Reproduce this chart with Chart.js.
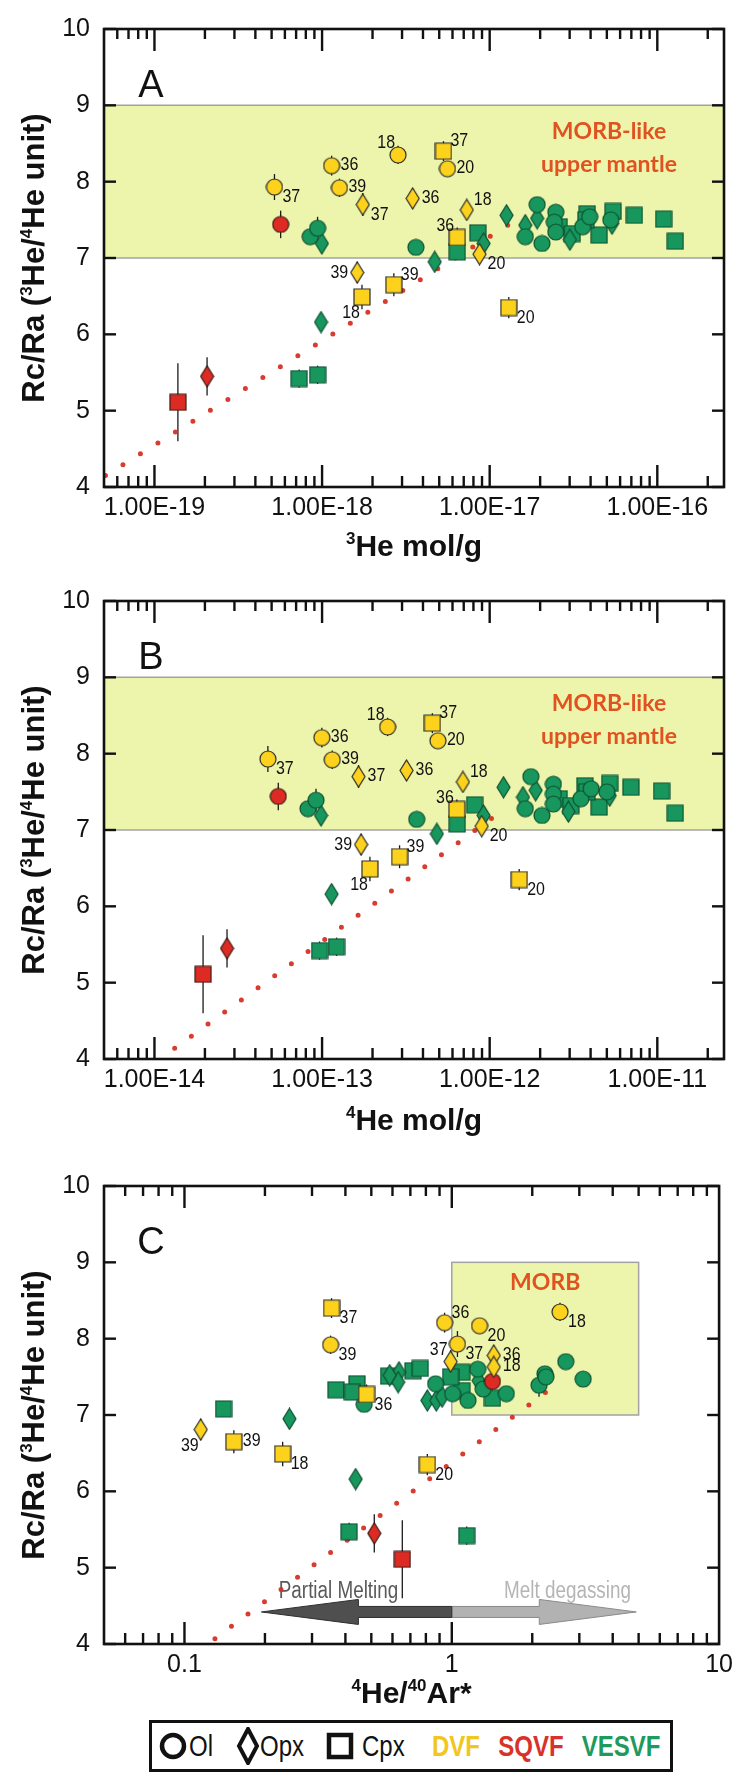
<!DOCTYPE html>
<html>
<head>
<meta charset="utf-8">
<script src="https://cdn.jsdelivr.net/npm/chart.js@4.4.1/dist/chart.umd.min.js"></script>
<style>
  body { margin: 0; background: #fff; width: 739px; height: 1773px; position: relative; overflow: hidden; }
  canvas { position: absolute; left: 0; }
  #legend { position: absolute; left: 149px; top: 1720px; width: 524px; height: 52px; box-sizing: border-box;
            border: 3px solid #111; font-family: 'Liberation Sans', Arial, sans-serif; font-size: 30px; }
  #legend svg { position: absolute; }
  #legend span { position: absolute; top: 0; line-height: 46px; color: #111; white-space: nowrap;
                 transform-origin: 0 50%; transform: scaleX(0.8); }
  #legend span.src { font-weight: bold; transform: scaleX(0.8) translateX(-50%); }
</style>
</head>
<body>
<canvas id="chartA" width="739" height="570" style="top:0px"></canvas>
<canvas id="chartB" width="739" height="575" style="top:572px"></canvas>
<canvas id="chartC" width="739" height="560" style="top:1157px"></canvas>
<div id="legend">
  <svg style="left:6px;top:8px" width="30" height="30"><circle cx="15" cy="15" r="11" fill="none" stroke="#111" stroke-width="4.5"/></svg>
  <span style="left:37px">Ol</span>
  <svg style="left:84px;top:4px" width="24" height="38"><polygon points="12,2 21,19 12,36 3,19" fill="none" stroke="#111" stroke-width="4"/></svg>
  <span style="left:108px">Opx</span>
  <svg style="left:173px;top:8px" width="30" height="30"><rect x="4" y="4" width="22" height="22" fill="none" stroke="#111" stroke-width="4.5"/></svg>
  <span style="left:210px">Cpx</span>
  <span class="src" style="left:304px;color:#f2c61c">DVF</span>
  <span class="src" style="left:379px;color:#d8322a">SQVF</span>
  <span class="src" style="left:469px;color:#1f9a5e">VESVF</span>
</div>
<script>
// ---- samples: Rc/Ra is the same in every panel, only the x quantity changes ----

// DVF olivine
const dvfOlTag  = ['37', '36', '39', '18', '20'];
const dvfOlRc   = [7.93, 8.21, 7.92, 8.35, 8.17];
const dvfOlErr  = [0.17, 0.13, 0.12, 0.12, 0.07];
const dvfOlHe3  = [5.2e-19, 1.14e-18, 1.27e-18, 2.84e-18, 5.6e-18];
const dvfOlHe4  = [4.75e-14, 9.97e-14, 1.15e-13, 2.46e-13, 4.91e-13];
const dvfOlHeAr = [1.05, 0.94, 0.352, 2.54, 1.27];

// DVF orthopyroxene
const dvfOpxTag  = ['37', '36', '18', '20', '39'];
const dvfOpxRc   = [7.70, 7.78, 7.63, 7.05, 6.81];
const dvfOpxErr  = [0.15, 0.13, 0.11, 0.09, 0.14];
const dvfOpxHe3  = [1.75e-18, 3.47e-18, 7.3e-18, 8.7e-18, 1.62e-18];
const dvfOpxHe4  = [1.65e-13, 3.19e-13, 6.92e-13, 8.96e-13, 1.71e-13];
const dvfOpxHeAr = [0.99, 1.436, 1.436, null, 0.115];

// DVF clinopyroxene
const dvfCpxTag  = ['37', '36', '39', '18', '20'];
const dvfCpxRc   = [8.40, 7.27, 6.65, 6.49, 6.35];
const dvfCpxErr  = [0.13, 0.13, 0.15, 0.16, 0.14];
const dvfCpxHe3  = [5.3e-18, 6.4e-18, 2.68e-18, 1.73e-18, 1.30e-17];
const dvfCpxHe4  = [4.55e-13, 6.37e-13, 2.9e-13, 1.93e-13, 1.5e-12];
const dvfCpxHeAr = [0.355, 0.48, 0.153, 0.233, 0.81];

// SQVF
const sqvfOlRc = [7.44],  sqvfOlErr = [0.18],  sqvfOlHe3 = [5.66e-19],  sqvfOlHe4 = [5.48e-14],  sqvfOlHeAr = [1.42];
const sqvfOpxRc = [5.45], sqvfOpxErr = [0.25], sqvfOpxHe3 = [2.06e-19], sqvfOpxHe4 = [2.71e-14], sqvfOpxHeAr = [0.513];
const sqvfCpxRc = [5.11], sqvfCpxErr = [0.51], sqvfCpxHe3 = [1.38e-19], sqvfCpxHe4 = [1.95e-14], sqvfCpxHeAr = [0.653];

// VESVF olivine
const vesOlRc   = [7.28, 7.39, 7.14, 7.70, 7.28, 7.19, 7.60, 7.47, 7.34, 7.41, 7.54, 7.50];
const vesOlErr  = [0.10, 0.15, 0.08, 0.08, 0.08, 0.08, 0.08, 0.08, 0.08, 0.08, 0.08, 0.08];
const vesOlHe3  = [8.5e-19, 9.4e-19, 3.63e-18, 1.92e-17, 1.63e-17, 2.05e-17, 2.48e-17, 2.43e-17, 2.48e-17, 3.59e-17, 3.95e-17, 5.28e-17];
const vesOlHe4  = [8.24e-14, 9.2e-14, 3.67e-13, 1.76e-12, 1.63e-12, 2.05e-12, 2.4e-12, 2.4e-12, 2.4e-12, 3.5e-12, 4.03e-12, 5.0e-12];
const vesOlHeAr = [1.007, 2.12, 0.47, 2.67, 1.60, 1.15, 1.25, 3.1, 1.31, 0.87, 2.23, 2.25];

// VESVF orthopyroxene
const vesOpxRc   = [7.19, 6.95, 7.56, 7.43, 7.52, 7.19, 7.24, 7.45, 6.16];
const vesOpxErr  = [0.08, 0.08, 0.08, 0.08, 0.08, 0.08, 0.08, 0.08, 0.10];
const vesOpxHe3  = [9.97e-19, 4.7e-18, 1.26e-17, 1.63e-17, 1.92e-17, 9.2e-18, 3.01e-17, 5.37e-17, 9.86e-19];
const vesOpxHe4  = [9.86e-14, 4.84e-13, 1.21e-12, 1.58e-12, 1.88e-12, 9.2e-13, 2.95e-12, 5.2e-12, 1.14e-13];
const vesOpxHeAr = [0.81, 0.247, 0.635, 0.63, 0.586, 0.875, 0.92, 1.26, 0.437];

// VESVF clinopyroxene
const vesCpxRc   = [7.08, 7.33, 7.41, 7.32, 7.58, 7.30, 7.61, 7.56, 7.51, 7.22, 7.50, 5.42, 5.47];
const vesCpxErr  = [0.08, 0.08, 0.08, 0.08, 0.08, 0.08, 0.08, 0.08, 0.08, 0.08, 0.08, 0.12, 0.12];
const vesCpxHe3  = [6.4e-18, 8.5e-18, 2.6e-17, 3.11e-17, 3.82e-17, 4.5e-17, 5.45e-17, 7.3e-17, 1.09e-16, 1.28e-16, 3.75e-17, 7.3e-19, 9.4e-19];
const vesCpxHe4  = [6.4e-13, 8.13e-13, 2.6e-12, 3.05e-12, 3.7e-12, 4.5e-12, 5.2e-12, 6.96e-12, 1.06e-11, 1.28e-11, 3.8e-12, 9.66e-14, 1.22e-13];
const vesCpxHeAr = [0.14, 0.369, 0.442, 1.09, 0.716, 0.425, 0.762, 1.09, 0.58, 1.42, 0.99, 1.137, 0.413];

// melting trends (red dotted lines)
const trendHe3X = [5.1e-20, 1.6e-17],  trendHe3Y = [4.15, 7.56];
const trendHe4X = [1.32e-14, 1.2e-12], trendHe4Y = [4.14, 7.26];
const trendHeArX = [0.13, 2.46],       trendHeArY = [4.07, 7.40];

// axes
const yTicks = [4, 5, 6, 7, 8, 9, 10];
const he3Ticks = [1e-19, 1e-18, 1e-17, 1e-16];
const he3TickLabels = ['1.00E-19', '1.00E-18', '1.00E-17', '1.00E-16'];
const he4Ticks = [1e-14, 1e-13, 1e-12, 1e-11];
const he4TickLabels = ['1.00E-14', '1.00E-13', '1.00E-12', '1.00E-11'];
const heArTicks = [0.1, 1, 10];
const heArTickLabels = ['0.1', '1', '10'];

// axis titles as [text, superscript?] pieces
const yTitle    = [['Rc/Ra (', 0], ['3', 1], ['He/', 0], ['4', 1], ['He unit)', 0]];
const he3Title  = [['3', 1], ['He mol/g', 0]];
const he4Title  = [['4', 1], ['He mol/g', 0]];
const heArTitle = [['4', 1], ['He/', 0], ['40', 1], ['Ar*', 0]];

// ---- styling ----
const FONT = "'Liberation Sans', Arial, sans-serif";
const YELLOW = '#fcd21c', RED = '#dd2b24', GREEN = '#17975d';
const BAND = '#edf5ac';
const MORB_TEXT = '#e0521f';

Chart.defaults.font.family = FONT;
Chart.defaults.color = '#111';

// where each sample number sits around its marker
const tagSpots = {
  A: { dvfOl: ['br', 'r', 'r', 'tl', 'r'], dvfOpx: ['br', 'r', 'tr', 'br', 'l'], dvfCpx: ['tr', 'tl', 'tr', 'bl', 'br'] },
  B: { dvfOl: ['br', 'r', 'r', 'tl', 'r'], dvfOpx: ['r', 'r', 'tr', 'br', 'l'],  dvfCpx: ['tr', 'tl', 'tr', 'bl', 'br'] },
  C: { dvfOl: ['br', 'tr', 'br', 'br', 'br'], dvfOpx: ['tl', 'r', 'r', 'br', 'bl'], dvfCpx: ['br', 'br', 'r', 'br', 'br'] }
};
const tagOffset = {
  r:  { align: 'left',  dx: 9,  dy: -1 },
  br: { align: 'left',  dx: 8,  dy: 10 },
  tr: { align: 'left',  dx: 7,  dy: -10 },
  tl: { align: 'right', dx: -3, dy: -12 },
  bl: { align: 'right', dx: -2, dy: 16 },
  l:  { align: 'right', dx: -9, dy: 0 }
};

const markerSize = { circle: [16, 16], square: [16, 16], diamond: [13, 21] };

function marker(shape, fill, edge) {
  const [w, h] = markerSize[shape];
  const c = document.createElement('canvas');
  c.width = w + 2; c.height = h + 2;
  const g = c.getContext('2d');
  const cx = c.width / 2, cy = c.height / 2;
  g.fillStyle = fill; g.strokeStyle = edge; g.lineWidth = 1.2;
  g.beginPath();
  if (shape === 'circle') g.arc(cx, cy, w / 2, 0, Math.PI * 2);
  else if (shape === 'square') g.rect(cx - w / 2, cy - h / 2, w, h);
  else {
    g.moveTo(cx, cy - h / 2); g.lineTo(cx + w / 2, cy);
    g.lineTo(cx, cy + h / 2); g.lineTo(cx - w / 2, cy); g.closePath();
  }
  g.fill(); g.stroke();
  return c;
}

// drawing order: first group ends up on top
const groups = [
  { key: 'dvfOl',  shape: 'circle',  fill: YELLOW, edge: '#2a2a2a', rc: dvfOlRc,  err: dvfOlErr,  tag: dvfOlTag,  x: { A: dvfOlHe3,  B: dvfOlHe4,  C: dvfOlHeAr } },
  { key: 'dvfOpx', shape: 'diamond', fill: YELLOW, edge: '#2a2a2a', rc: dvfOpxRc, err: dvfOpxErr, tag: dvfOpxTag, x: { A: dvfOpxHe3, B: dvfOpxHe4, C: dvfOpxHeAr } },
  { key: 'dvfCpx', shape: 'square',  fill: YELLOW, edge: '#2a2a2a', rc: dvfCpxRc, err: dvfCpxErr, tag: dvfCpxTag, x: { A: dvfCpxHe3, B: dvfCpxHe4, C: dvfCpxHeAr } },
  { key: 'sqvfOl',  shape: 'circle',  fill: RED, edge: '#3a1a14', rc: sqvfOlRc,  err: sqvfOlErr,  x: { A: sqvfOlHe3,  B: sqvfOlHe4,  C: sqvfOlHeAr } },
  { key: 'sqvfOpx', shape: 'diamond', fill: RED, edge: '#3a1a14', rc: sqvfOpxRc, err: sqvfOpxErr, x: { A: sqvfOpxHe3, B: sqvfOpxHe4, C: sqvfOpxHeAr } },
  { key: 'sqvfCpx', shape: 'square',  fill: RED, edge: '#3a1a14', rc: sqvfCpxRc, err: sqvfCpxErr, x: { A: sqvfCpxHe3, B: sqvfCpxHe4, C: sqvfCpxHeAr } },
  { key: 'vesOl',  shape: 'circle',  fill: GREEN, edge: '#0e4f31', rc: vesOlRc,  err: vesOlErr,  x: { A: vesOlHe3,  B: vesOlHe4,  C: vesOlHeAr } },
  { key: 'vesOpx', shape: 'diamond', fill: GREEN, edge: '#0e4f31', rc: vesOpxRc, err: vesOpxErr, x: { A: vesOpxHe3, B: vesOpxHe4, C: vesOpxHeAr } },
  { key: 'vesCpx', shape: 'square',  fill: GREEN, edge: '#0e4f31', rc: vesCpxRc, err: vesCpxErr, x: { A: vesCpxHe3, B: vesCpxHe4, C: vesCpxHeAr } }
];

function pointSets(panel) {
  return groups.map(g => ({
    type: 'scatter',
    data: g.x[panel].map((v, i) => ({ x: v, y: g.rc[i] })),
    pointStyle: marker(g.shape, g.fill, g.edge),
    pointRadius: 8,
    errs: g.err,
    tags: g.tag || null,
    tagAt: g.tag ? tagSpots[panel][g.key] : null
  }));
}

function trendSet(xs, ys) {
  return {
    type: 'line',
    data: xs.map((v, i) => ({ x: v, y: ys[i] })),
    borderColor: 'rgba(214, 50, 38, 0.95)',
    borderWidth: 5,
    borderDash: [0, 20.6],
    borderCapStyle: 'round',
    pointRadius: 0,
    showLine: true,
    fill: false
  };
}

function minorTicks(min, max) {
  const out = [];
  for (let d = Math.floor(Math.log10(min)); d <= Math.ceil(Math.log10(max)); d++) {
    for (let m = 2; m <= 9; m++) {
      const v = m * Math.pow(10, d);
      if (v > min * 1.0001 && v < max * 0.9999) out.push(v);
    }
  }
  return out;
}

function line(ctx, x0, y0, x1, y1) {
  ctx.beginPath(); ctx.moveTo(x0, y0); ctx.lineTo(x1, y1); ctx.stroke();
}

// condensed text, the figure uses a narrow sans
function narrowText(ctx, text, x, y, squeeze) {
  ctx.save();
  ctx.translate(x, y);
  ctx.scale(squeeze, 1);
  ctx.fillText(text, 0, 0);
  ctx.restore();
}

// bold title with superscripts, centred on (cx, cy)
function richTitle(ctx, parts, size, cx, cy, vertical) {
  ctx.save();
  ctx.translate(cx, cy);
  if (vertical) ctx.rotate(-Math.PI / 2);
  const big = `bold ${size}px ${FONT}`, small = `bold ${Math.round(size * 0.56)}px ${FONT}`;
  let w = 0;
  parts.forEach(([t, sup]) => { ctx.font = sup ? small : big; w += ctx.measureText(t).width; });
  let x = -w / 2;
  const base = size * 0.36;
  ctx.fillStyle = '#111';
  ctx.textAlign = 'left'; ctx.textBaseline = 'alphabetic';
  parts.forEach(([t, sup]) => {
    ctx.font = sup ? small : big;
    ctx.fillText(t, x, sup ? base - size * 0.4 : base);
    x += ctx.measureText(t).width;
  });
  ctx.restore();
}

function arrow(ctx, xTail, xTip, yc, fill, edge) {
  const dir = Math.sign(xTip - xTail), shaft = 5.5, head = 12.5, headLen = 97;
  const xb = xTip - dir * headLen;
  ctx.beginPath();
  ctx.moveTo(xTail, yc - shaft); ctx.lineTo(xb, yc - shaft); ctx.lineTo(xb, yc - head);
  ctx.lineTo(xTip, yc); ctx.lineTo(xb, yc + head); ctx.lineTo(xb, yc + shaft);
  ctx.lineTo(xTail, yc + shaft); ctx.closePath();
  ctx.fillStyle = fill; ctx.fill();
  ctx.strokeStyle = edge; ctx.lineWidth = 1; ctx.stroke();
}

const deco = {
  id: 'deco',
  beforeDatasetsDraw(chart) {
    const o = chart.options.plugins.deco;
    const { ctx, chartArea: a, scales: { x, y } } = chart;
    ctx.save();
    // MORB field
    const y9 = y.getPixelForValue(9), y7 = y.getPixelForValue(7);
    const x0 = o.boxX ? x.getPixelForValue(o.boxX[0]) : a.left;
    const x1 = o.boxX ? x.getPixelForValue(o.boxX[1]) : a.right;
    ctx.fillStyle = BAND;
    ctx.fillRect(x0, y9, x1 - x0, y7 - y9);
    ctx.strokeStyle = '#a3a3a3'; ctx.lineWidth = 1.5;
    if (o.boxX) ctx.strokeRect(x0, y9, x1 - x0, y7 - y9);
    else { line(ctx, x0, y9, x1, y9); line(ctx, x0, y7, x1, y7); }

    ctx.fillStyle = MORB_TEXT;
    ctx.font = "bold 23px Lato, " + FONT;
    ctx.textAlign = 'center'; ctx.textBaseline = 'middle';
    o.morb.forEach(t => ctx.fillText(t.text, x.getPixelForValue(t.x), y.getPixelForValue(t.y)));

    // melting / degassing arrows
    if (o.arrows) {
      const yc = y.getPixelForValue(o.arrows.y);
      const xm = x.getPixelForValue(o.arrows.from);
      arrow(ctx, xm, x.getPixelForValue(o.arrows.degas), yc, '#b2b2b2', '#8a8a8a');
      arrow(ctx, xm, x.getPixelForValue(o.arrows.melt), yc, '#4f4f4f', '#2e2e2e');
      ctx.font = "23px " + FONT;
      ctx.fillStyle = '#5a5a5a';
      narrowText(ctx, 'Partial Melting', x.getPixelForValue(o.arrows.meltText[0]), y.getPixelForValue(o.arrows.meltText[1]), 0.82);
      ctx.fillStyle = '#b5b5b5';
      narrowText(ctx, 'Melt degassing', x.getPixelForValue(o.arrows.degasText[0]), y.getPixelForValue(o.arrows.degasText[1]), 0.82);
    }

    // error bars, under the markers
    ctx.strokeStyle = '#1a1a1a'; ctx.lineWidth = 1.3;
    chart.data.datasets.forEach(ds => {
      if (!ds.errs) return;
      ds.data.forEach((p, j) => {
        if (p.x == null) return;
        const px = x.getPixelForValue(p.x);
        line(ctx, px, y.getPixelForValue(p.y - ds.errs[j]), px, y.getPixelForValue(p.y + ds.errs[j]));
      });
    });
    ctx.restore();
  },
  afterDatasetsDraw(chart) {
    const { ctx } = chart;
    ctx.save();
    ctx.font = "19px " + FONT;
    ctx.fillStyle = '#111';
    ctx.textBaseline = 'middle';
    chart.data.datasets.forEach((ds, i) => {
      if (!ds.tags) return;
      const meta = chart.getDatasetMeta(i);
      ds.tags.forEach((t, j) => {
        const pt = meta.data[j];
        if (!pt || pt.skip || ds.data[j].x == null) return;
        const off = tagOffset[ds.tagAt[j]];
        ctx.textAlign = off.align;
        narrowText(ctx, t, pt.x + off.dx, pt.y + off.dy, 0.84);
      });
    });
    ctx.restore();
  },
  afterDraw(chart) {
    const o = chart.options.plugins.deco;
    const { ctx, chartArea: a, scales: { x, y } } = chart;
    ctx.save();
    ctx.strokeStyle = '#111';
    ctx.lineWidth = 2.4;
    yTicks.forEach(v => {
      const py = y.getPixelForValue(v);
      line(ctx, a.left, py, a.left + 12, py);
      line(ctx, a.right, py, a.right - 12, py);
    });
    const minor = minorTicks(x.min, x.max);
    o.ticks.forEach(v => {
      const px = x.getPixelForValue(v);
      if (px < a.left + 1 || px > a.right - 1) return;
      line(ctx, px, a.top, px, a.top + 22);
      line(ctx, px, a.bottom, px, a.bottom - 22);
    });
    minor.forEach(v => {
      const px = x.getPixelForValue(v);
      line(ctx, px, a.top, px, a.top + 10);
      line(ctx, px, a.bottom, px, a.bottom - 11);
    });
    ctx.lineWidth = 2.6;
    ctx.strokeRect(a.left, a.top, a.right - a.left, a.bottom - a.top);

    ctx.fillStyle = '#111';
    ctx.font = "38px " + FONT;
    ctx.textAlign = 'center'; ctx.textBaseline = 'middle';
    ctx.fillText(o.letter, a.left + 47, a.top + 58);

    // axis titles
    richTitle(ctx, yTitle, 31, 33, (a.top + a.bottom) / 2, true);
    richTitle(ctx, o.xTitle, 30, (a.left + a.right) / 2, o.xTitleY, false);
    ctx.restore();
  }
};

function makeChart(id, panel, xCfg, decoOpts) {
  const canvas = document.getElementById(id);
  const plotHeight = 470;
  return new Chart(canvas, {
    type: 'scatter',
    data: { datasets: [...pointSets(panel), trendSet(xCfg.trendX, xCfg.trendY)] },
    options: {
      responsive: false,
      animation: false,
      events: [],
      layout: { padding: { top: 17, right: 15, left: 0, bottom: 0 } },
      plugins: { legend: { display: false }, tooltip: { enabled: false }, deco: decoOpts },
      scales: {
        x: {
          type: 'logarithmic',
          min: xCfg.min, max: xCfg.max,
          grid: { display: false, drawTicks: false },
          border: { display: false },
          afterBuildTicks: s => { s.ticks = xCfg.ticks.map(v => ({ value: v })); },
          ticks: {
            autoSkip: false, maxRotation: 0, padding: 6,
            font: { size: 25 },
            callback: (v, i) => xCfg.labels[i]
          },
          afterFit: s => { s.height = canvas.height - 17 - plotHeight; }
        },
        y: {
          type: 'linear', min: 4, max: 10,
          grid: { display: false, drawTicks: false },
          border: { display: false },
          afterBuildTicks: s => { s.ticks = yTicks.map(v => ({ value: v })); },
          ticks: { padding: 14, font: { size: 25 } },
          afterFit: s => { s.width = 104; }
        }
      }
    },
    plugins: [deco]
  });
}

makeChart('chartA', 'A', {
  min: 5e-20, max: 2.5e-16, ticks: he3Ticks, labels: he3TickLabels,
  trendX: trendHe3X, trendY: trendHe3Y
}, {
  letter: 'A', ticks: he3Ticks, xTitle: he3Title, xTitleY: 545,
  morb: [{ text: 'MORB-like', x: 5.15e-17, y: 8.65 }, { text: 'upper mantle', x: 5.15e-17, y: 8.22 }]
});

makeChart('chartB', 'B', {
  min: 5e-15, max: 2.5e-11, ticks: he4Ticks, labels: he4TickLabels,
  trendX: trendHe4X, trendY: trendHe4Y
}, {
  letter: 'B', ticks: he4Ticks, xTitle: he4Title, xTitleY: 547,
  morb: [{ text: 'MORB-like', x: 5.15e-12, y: 8.65 }, { text: 'upper mantle', x: 5.15e-12, y: 8.22 }]
});

makeChart('chartC', 'C', {
  min: 0.05, max: 10, ticks: heArTicks, labels: heArTickLabels,
  trendX: trendHeArX, trendY: trendHeArY
}, {
  letter: 'C', ticks: heArTicks, boxX: [1, 5], xTitle: heArTitle, xTitleY: 535,
  morb: [{ text: 'MORB', x: 2.236, y: 8.73 }],
  arrows: { y: 4.42, from: 1, melt: 0.194, degas: 4.9, meltText: [0.377, 4.69], degasText: [2.71, 4.69] }
});
</script>
</body>
</html>
